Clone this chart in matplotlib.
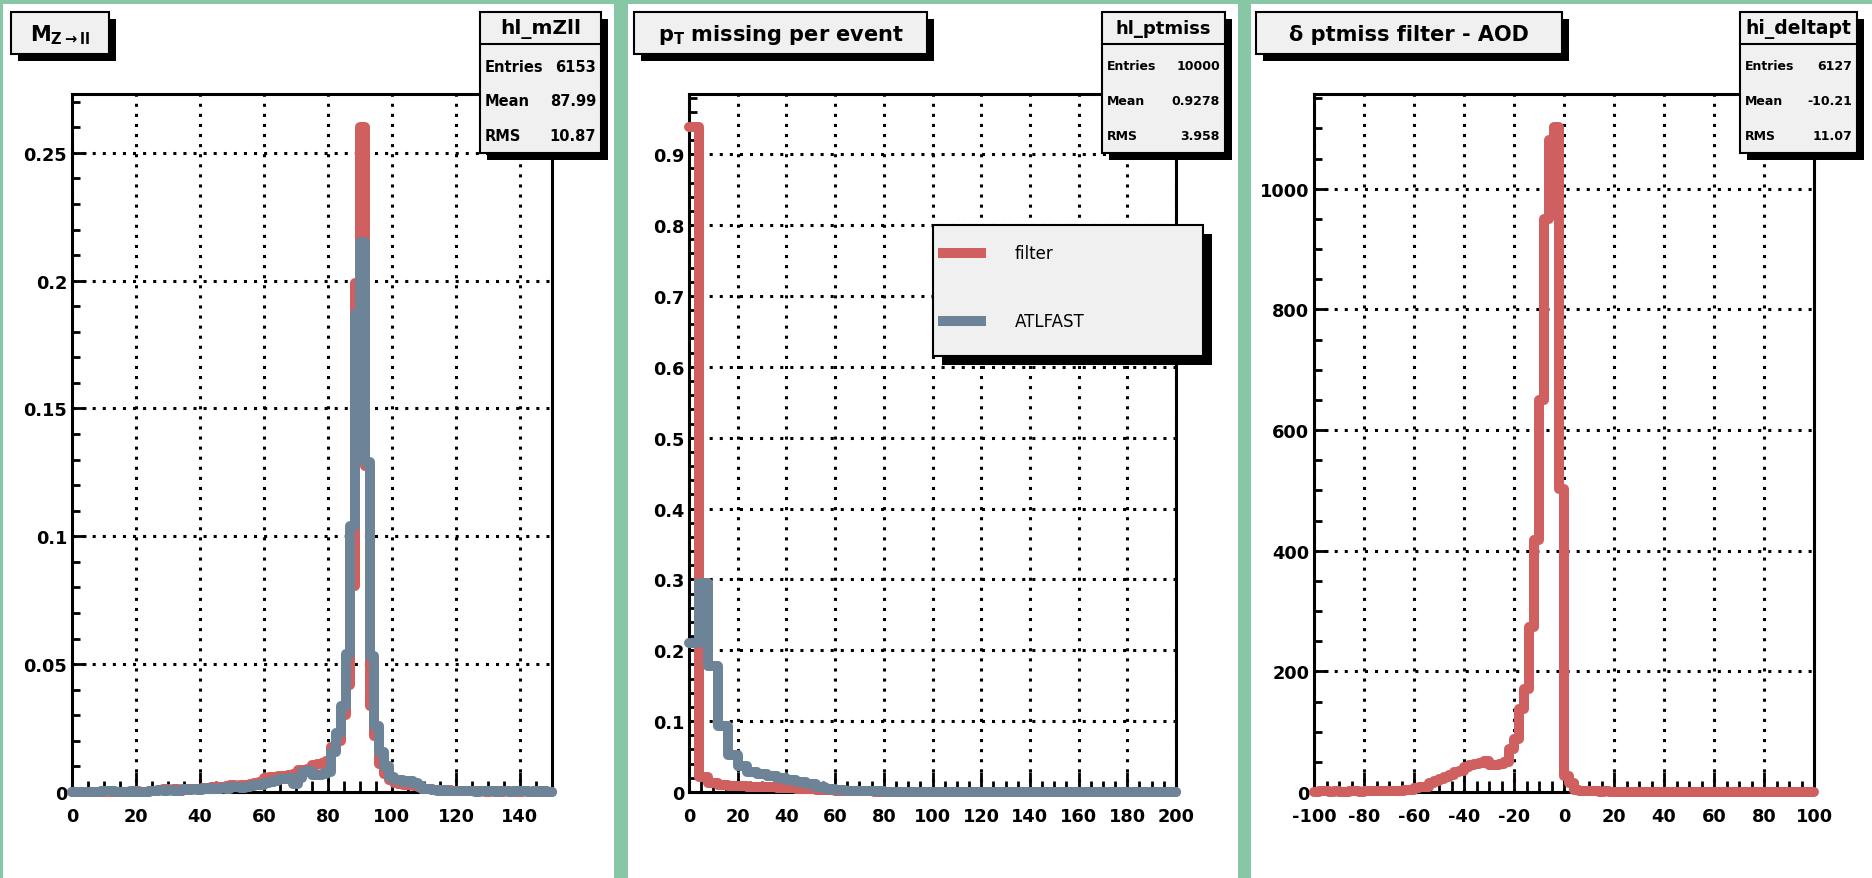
import numpy
import matplotlib
matplotlib.use('Agg')
import matplotlib.pyplot as plt
from matplotlib.patches import Rectangle
from matplotlib.lines import Line2D
from matplotlib.ticker import MultipleLocator

W, H = 1872, 879
GREEN = '#88c7a5'
RED = '#d05f60'
BLUE = '#6c8398'
BOX = '#f0f0f0'

# --- M(Z->ll): 100 bins, 0..150 ---
mzll_edges = numpy.linspace(0, 150, 101)
mzll_filter = [
    0, 0, 0, 0, 0, 0, 0, 0.0003, 0, 0,
    0, 0, 0, 0.0003, 0, 0, 0.0005, 0.0005, 0.0008, 0.0010,
    0.0008, 0.0010, 0.0005, 0.0008, 0.0013, 0.0010, 0.0013, 0.0016, 0.0013, 0.0018,
    0.0020, 0.0018, 0.0023, 0.0026, 0.0023, 0.0026, 0.0029, 0.0031, 0.0034, 0.0040,
    0.0056, 0.0058, 0.0060, 0.0062, 0.0062, 0.0065, 0.0070, 0.0086, 0.0086, 0.0090,
    0.0105, 0.0110, 0.0112, 0.0120, 0.0175, 0.0200, 0.0300, 0.0420, 0.0806, 0.1990,
    0.2600, 0.1276, 0.0336, 0.0220, 0.0110, 0.0070, 0.0045, 0.0035, 0.0030, 0.0026,
    0.0026, 0.0023, 0.0018, 0.0013, 0.0010, 0.0008, 0.0008, 0.0005, 0.0008, 0.0005,
    0.0003, 0.0005, 0.0003, 0.0003, 0.0005, 0.0003, 0, 0.0003, 0.0003, 0,
    0.0003, 0, 0.0003, 0, 0.0003, 0, 0, 0.0003, 0, 0,
]
mzll_atlfast = [
    0, 0, 0, 0, 0, 0, 0.0003, 0.0005, 0.0003, 0,
    0, 0, 0.0003, 0, 0, 0, 0.0003, 0.0005, 0.0008, 0.0005,
    0.0008, 0.0003, 0.0005, 0.0010, 0.0008, 0.0013, 0.0008, 0.0013, 0.0016, 0.0010,
    0.0013, 0.0016, 0.0013, 0.0018, 0.0021, 0.0016, 0.0021, 0.0023, 0.0026, 0.0029,
    0.0036, 0.0038, 0.0042, 0.0050, 0.0052, 0.0055, 0.0030, 0.0055, 0.0080, 0.0082,
    0.0068, 0.0065, 0.0072, 0.0080, 0.0157, 0.0229, 0.0336, 0.0540, 0.1040, 0.1870,
    0.2150, 0.1290, 0.0530, 0.0260, 0.0155, 0.0100, 0.0060, 0.0048, 0.0045, 0.0040,
    0.0044, 0.0036, 0.0023, 0.0013, 0.0010, 0.0008, 0.0005, 0.0008, 0.0005, 0.0003,
    0.0005, 0.0003, 0.0005, 0.0003, 0, 0.0003, 0.0005, 0.0003, 0, 0.0003,
    0.0005, 0, 0.0003, 0.0003, 0.0005, 0, 0.0003, 0, 0.0003, 0,
]
mzll_yticks = [0, 0.05, 0.1, 0.15, 0.2, 0.25]
mzll_ylabels = ['0', '0.05', '0.1', '0.15', '0.2', '0.25']
mzll_xticks = [0, 20, 40, 60, 80, 100, 120, 140]

# --- pT missing: 50 bins, 0..200 ---
ptmiss_edges = numpy.linspace(0, 200, 51)
ptmiss_filter = [
    0.938, 0.021, 0.012, 0.010, 0.009, 0.008, 0.0075, 0.007, 0.0065, 0.006,
    0.005, 0.0045, 0.004, 0.003, 0.0025, 0.002, 0.0015, 0.001, 0.0008, 0.0005,
    0.0003, 0, 0, 0, 0, 0, 0, 0, 0, 0,
    0, 0, 0, 0, 0, 0, 0, 0, 0, 0,
    0, 0, 0, 0, 0, 0, 0, 0, 0, 0,
]
ptmiss_atlfast = [
    0.210, 0.295, 0.178, 0.093, 0.052, 0.037, 0.028, 0.025, 0.023, 0.020,
    0.017, 0.014, 0.011, 0.007, 0.004, 0.003, 0.002, 0.0015, 0.001, 0.0008,
    0.0005, 0.0005, 0.0003, 0.0003, 0, 0, 0, 0, 0, 0,
    0, 0, 0, 0, 0, 0, 0, 0, 0, 0,
    0, 0, 0, 0, 0, 0, 0, 0, 0, 0,
]
ptmiss_yticks = [0, 0.1, 0.2, 0.3, 0.4, 0.5, 0.6, 0.7, 0.8, 0.9]
ptmiss_ylabels = ['0', '0.1', '0.2', '0.3', '0.4', '0.5', '0.6', '0.7', '0.8', '0.9']
ptmiss_xticks = [0, 20, 40, 60, 80, 100, 120, 140, 160, 180, 200]

# --- delta ptmiss filter - AOD: 100 bins, -100..100 ---
deltapt_edges = numpy.linspace(-100, 100, 101)
deltapt_filter = [
    0, 1, 1, 0, 1, 0, 0, 1, 1, 0,
    1, 1, 2, 1, 1, 2, 2, 2, 3, 4,
    6, 8, 9, 15, 19, 22, 25, 28, 33, 35,
    42, 45, 46, 48, 52, 44, 44, 47, 50, 71,
    88, 138, 171, 273, 417, 649, 950, 1080, 1102, 502,
    27, 15, 3, 2, 1, 1, 1, 0, 1, 0,
    0, 0, 0, 0, 0, 0, 0, 0, 0, 0,
    0, 0, 0, 0, 0, 0, 0, 0, 0, 0,
    0, 0, 0, 0, 0, 0, 0, 0, 0, 0,
    0, 0, 0, 0, 0, 0, 0, 0, 0, 0,
]
deltapt_yticks = [0, 200, 400, 600, 800, 1000]
deltapt_ylabels = ['0', '200', '400', '600', '800', '1000']
deltapt_xticks = [-100, -80, -60, -40, -20, 0, 20, 40, 60, 80, 100]

legend_labels = ['filter', 'ATLFAST']

stats = [
    ('hl_mZll', [('Entries', '6153'), ('Mean', '87.99'), ('RMS', '10.87')]),
    ('hl_ptmiss', [('Entries', '10000'), ('Mean', '0.9278'), ('RMS', '3.958')]),
    ('hi_deltapt', [('Entries', '6127'), ('Mean', '-10.21'), ('RMS', '11.07')]),
]
titles = [r'$\mathbf{M_{Z\rightarrow ll}}$',
          r'$\mathbf{p_{T}}$ missing per event',
          'δ ptmiss filter - AOD']

plt.rcParams['font.family'] = ['DejaVu Sans']
plt.rcParams['font.weight'] = 'bold'


def px_rect(x0, y0, x1, y1):
    # pixel box (top-left origin) -> figure fraction [left, bottom, w, h]
    return [x0 / W, 1 - y1 / H, (x1 - x0) / W, (y1 - y0) / H]


def fig_box(fig, x0, y0, x1, y1, shadow=7, face=BOX, z=5):
    if shadow:
        l, b, w, h = px_rect(x0 + shadow, y0 + shadow, x1 + shadow, y1 + shadow)
        fig.add_artist(Rectangle((l, b), w, h, transform=fig.transFigure,
                                 facecolor='black', edgecolor='none', zorder=z))
    l, b, w, h = px_rect(x0, y0, x1, y1)
    fig.add_artist(Rectangle((l, b), w, h, transform=fig.transFigure,
                             facecolor=face, edgecolor='black', linewidth=1.5,
                             zorder=z + 0.1))


def fig_text(fig, x, y, s, **kw):
    fig.text(x / W, 1 - y / H, s, zorder=7, **kw)


def setup_axes(ax, xlim, ylim, xticks, xminor, yticks, ylabels, yminor):
    ax.set_xlim(*xlim)
    ax.set_ylim(*ylim)
    ax.set_xticks(xticks, [str(t) for t in xticks])
    ax.set_yticks(yticks, ylabels)
    ax.xaxis.set_minor_locator(MultipleLocator(xminor))
    ax.yaxis.set_minor_locator(MultipleLocator(yminor))
    ax.tick_params(axis='x', which='major', direction='in', length=14.5,
                   width=2, pad=11, labelsize=12.8)
    ax.tick_params(axis='x', which='minor', direction='in', length=8, width=2)
    ax.tick_params(axis='y', which='major', direction='in', length=10,
                   width=2, pad=3.5, labelsize=12.8)
    ax.tick_params(axis='y', which='minor', direction='in', length=5.5, width=2)
    ax.grid(True, which='major', color='black', linewidth=2.2,
            linestyle=(0, (1, 2.3)))
    for spine in ax.spines.values():
        spine.set_linewidth(2.2)


def hist(ax, values, edges, color):
    patch = ax.stairs(values, edges, baseline=None, color=color,
                      linewidth=7.2, clip_on=False, zorder=3)
    patch.set_joinstyle('round')
    patch.set_capstyle('round')
    return patch


fig = plt.figure(figsize=(W / 100, H / 100), dpi=100)
fig.patch.set_facecolor(GREEN)

# white pads
for x0, x1 in [(3, 614), (628, 1238), (1251, 1872)]:
    l, b, w, h = px_rect(x0, 5, x1, H)
    fig.add_artist(Rectangle((l, b), w, h, transform=fig.transFigure,
                             facecolor='white', edgecolor='none', zorder=-1))

ax1 = fig.add_axes(px_rect(72, 95, 552, 793))
hist(ax1, mzll_filter, mzll_edges, RED)
hist(ax1, mzll_atlfast, mzll_edges, BLUE)
setup_axes(ax1, (0, 150), (0, 0.273), mzll_xticks, 5,
           mzll_yticks, mzll_ylabels, 0.01)

ax2 = fig.add_axes(px_rect(689, 95, 1176, 793))
hist(ax2, ptmiss_filter, ptmiss_edges, RED)
hist(ax2, ptmiss_atlfast, ptmiss_edges, BLUE)
setup_axes(ax2, (0, 200), (0, 0.985), ptmiss_xticks, 5,
           ptmiss_yticks, ptmiss_ylabels, 0.02)

ax3 = fig.add_axes(px_rect(1314, 95, 1814, 793))
hist(ax3, deltapt_filter, deltapt_edges, RED)
setup_axes(ax3, (-100, 100), (0, 1157), deltapt_xticks, 5,
           deltapt_yticks, deltapt_ylabels, 50)

# title boxes
title_boxes = [(11, 109), (634, 927), (1256, 1562)]
for (x0, x1), title in zip(title_boxes, titles):
    fig_box(fig, x0, 13, x1, 55)
    fig_text(fig, (x0 + x1) / 2, 35, title, ha='center', va='center',
             fontsize=15, fontweight='bold')

# stats boxes
stat_boxes = [(480, 601, 14.5, 10.5), (1102, 1225, 13, 9),
              (1740, 1857, 13.5, 9)]
for (x0, x1, hsize, rsize), (name, rows) in zip(stat_boxes, stats):
    fig_box(fig, x0, 13, x1, 154)
    l, b, w, h = px_rect(x0, 45, x1, 45)
    fig.add_artist(Line2D([l, l + w], [b, b], transform=fig.transFigure,
                          color='black', linewidth=1.5, zorder=6))
    fig_text(fig, (x0 + x1) / 2, 29, name, ha='center', va='center',
             fontsize=hsize)
    for (label, value), y in zip(rows, [67, 102, 137]):
        fig_text(fig, x0 + 5, y, label, ha='left', va='center', fontsize=rsize)
        fig_text(fig, x1 - 5, y, value, ha='right', va='center', fontsize=rsize)

# legend (pad 2)
fig_box(fig, 933, 226, 1203, 357, shadow=9)
for color, label, y in zip([RED, BLUE], legend_labels, [254, 322]):
    fig.add_artist(Line2D([943 / W, 981 / W], [1 - y / H, 1 - y / H],
                          transform=fig.transFigure, color=color,
                          linewidth=7.2, zorder=6))
    fig_text(fig, 1015, y, label, ha='left', va='center', fontsize=12,
             fontweight='normal')

fig.savefig('out.png', dpi=100, facecolor=GREEN)
